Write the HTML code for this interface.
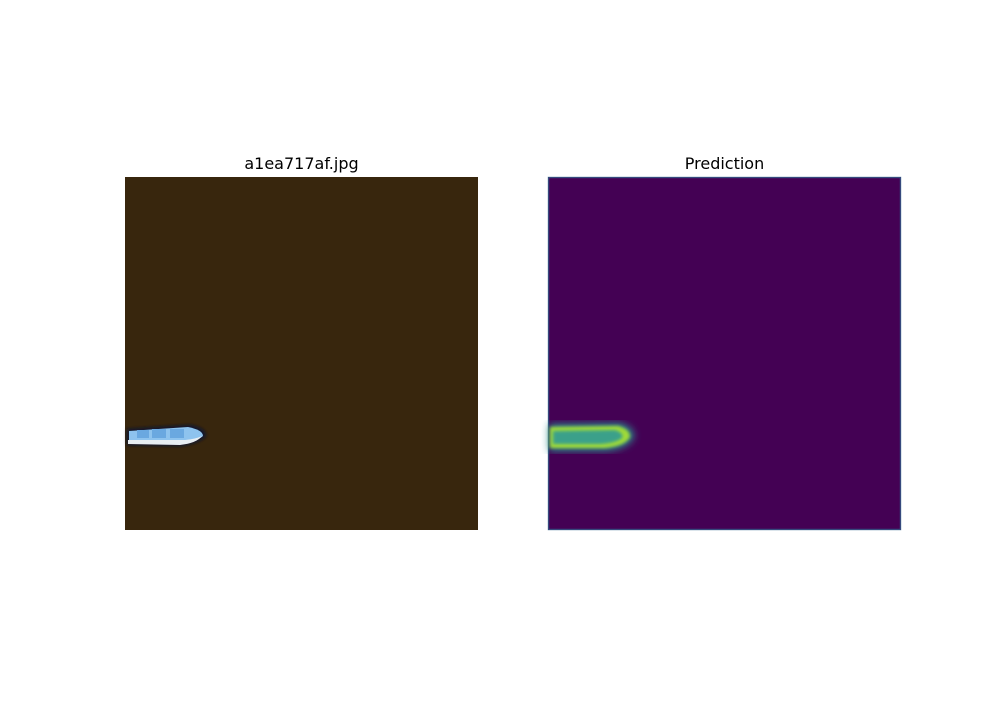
<!DOCTYPE html>
<html><head><meta charset="utf-8"><style>
body{margin:0;background:#fff;width:1000px;height:700px;overflow:hidden;font-family:"DejaVu Sans",sans-serif}
</style></head><body>
<svg width="1000" height="700" xmlns="http://www.w3.org/2000/svg">
<defs>
<filter id="blur1"><feGaussianBlur stdDeviation="1.5"/></filter>
<filter id="blur3"><feGaussianBlur stdDeviation="4"/></filter>
</defs>
<g>
<text x="301.5" y="169" text-anchor="middle" font-size="16" font-family="DejaVu Sans, sans-serif" fill="#000">a1ea717af.jpg</text>
<rect x="125" y="177" width="353" height="353" fill="#38260d"/>
<g>
<path d="M127,429 L190,425 Q206,428 206,436 Q200,443 180,446 L127,445 Z" fill="#0c1230" filter="url(#blur1)"/>
<path d="M129,431 L188,427 Q203,430 203,436 Q198,441 180,443 L129,442 Z" fill="#8ec3ee"/>
<path d="M128,440 L185,440 Q196,439 202,436 Q197,443 180,445 L128,444 Z" fill="#e8eef2"/>
<rect x="137" y="430" width="12" height="8" fill="#6aa8e0"/>
<rect x="152" y="429" width="14" height="9" fill="#6aa8e0"/>
<rect x="170" y="429" width="14" height="9" fill="#6aa8e0"/>
</g>
</g>
<g>
<text x="724.5" y="169" text-anchor="middle" font-size="16" font-family="DejaVu Sans, sans-serif" fill="#000">Prediction</text>
<rect x="548" y="177" width="353" height="353" fill="#440154"/>
<rect x="548.5" y="177.5" width="352" height="352" fill="none" stroke="#31688e" stroke-width="1.5" opacity="0.7"/>
<g>
<path d="M549,424 L620,423 Q634,427 634,437 Q628,449 605,451 L549,451 Z" fill="#2a8a8a" filter="url(#blur3)"/>
<path d="M550,427 L618,426 Q630,429 630,437 Q625,446 605,448 L550,448 Z" fill="#a0da39" filter="url(#blur1)"/>
<path d="M553,431 L615,430 Q624,433 622,438 Q616,443 600,444 L553,444 Z" fill="#3aa08a" filter="url(#blur1)"/>
</g>
</g>
</svg>
</body></html>
